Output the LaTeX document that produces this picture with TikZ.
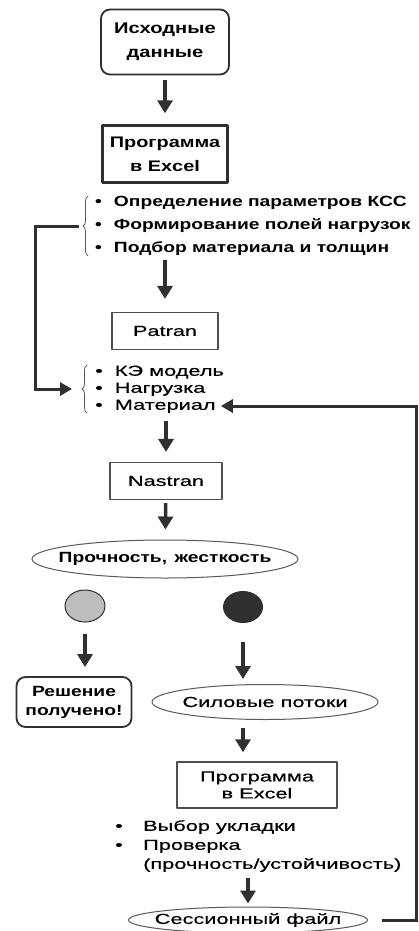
\documentclass[tikz,border=0pt]{standalone}
\usepackage{fontspec}
\setmainfont{Liberation Sans}[FakeStretch=1.5, FakeBold=0.5]
\newfontfamily\bfam{Liberation Sans}[FakeStretch=1.3]
\usepackage{tikz}
\usetikzlibrary{arrows.meta,shapes.geometric,decorations.pathreplacing}

\definecolor{ink}{HTML}{303030}
\definecolor{lgray}{HTML}{BDBDBD}

\newcommand{\bsize}[2]{\bfam\bfseries\fontsize{#1}{#2}\selectfont}
\newcommand{\psize}[1]{\fontsize{14.5}{#1}\selectfont}

\begin{document}
\begin{tikzpicture}[
    x=1pt, y=-1pt,
    line cap=round,
    line join=round,
    boxr/.style={draw=ink, line width=1.8pt, rounded corners=9pt, align=center, inner sep=0pt},
    boxs/.style={draw=ink, line width=2.4pt, align=center, inner sep=0pt},
    boxt/.style={draw=ink!85, line width=1.2pt, align=center, inner sep=0pt},
    oval/.style={ellipse, draw=ink!80, line width=1pt, inner xsep=-20pt, inner ysep=0pt, align=center},
    dot/.style={ellipse, draw=ink, line width=1pt, inner sep=0pt},
    item/.style={anchor=west, inner sep=0pt, align=left},
    line/.style={item, text height=10.5pt, text depth=3pt},
    arr/.style={draw=ink, line width=3.5pt, line cap=butt, -{Triangle[length=13pt,width=15pt]}, shorten <=4pt, shorten >=10pt},
    back/.style={draw=ink, line width=3pt, line cap=butt, line join=miter, -{Triangle[length=12pt,width=13pt]}},
    brc/.style={draw=ink!80, line width=0.8pt, decorate, decoration={brace, amplitude=5pt}}
]

% Fondo e margini
\fill[white] (0,0) rectangle (418,931);
\useasboundingbox (0,0) rectangle (418,931);

% Blocchi in alto
\node[boxr, font={\bsize{15.5}{24}}, minimum width=128pt, minimum height=65pt] (src) at (165,42) {Исходные\\данные};
\node[boxs, font={\bsize{15.3}{24}}, minimum width=125pt, minimum height=57pt] (xls) at (165,154) {Программа\\в Excel};

% Primo elenco
\node[item, font={\bsize{14.8}{23}}] (par) at (95,226)
    {•\hspace{12pt}Определение параметров КСС\\•\hspace{12pt}Формирование полей нагрузок\\•\hspace{12pt}Подбор материала и толщин};
\draw[brc] ([xshift=-7pt]par.south west) -- ([xshift=-7pt]par.north west);
\coordinate (in1) at ([xshift=-16pt]par.west);

% Patran
\node[boxt, font={\psize{17}}, minimum width=106pt, minimum height=37pt] (ptr) at (165,331) {Patran};

% Secondo elenco
\node[line, font={\psize{17}}] (ke) at (95,372) {•\hspace{12pt}КЭ модель};
\node[line, font={\psize{17}}] (load) at (95,389) {•\hspace{12pt}Нагрузка};
\node[line, font={\psize{17}}] (matl) at (95,406) {•\hspace{12pt}Материал};
\draw[brc] ([xshift=-8pt]matl.south west) -- ([xshift=-8pt]ke.north west);
\coordinate (in2) at ([xshift=-23pt]load.west);

% Nastran e risultato
\node[boxt, font={\psize{17}}, minimum width=112pt, minimum height=37pt] (nas) at (166,481) {Nastran};
\node[oval, font={\bsize{14.8}{17}}, minimum width=266pt, minimum height=38pt] (str) at (165,559) {Прочность,\enspace жесткость};

% Cerchi
\node[dot, fill=lgray, minimum width=40pt, minimum height=32pt] (ok) at (85,606) {};
\node[dot, fill=ink, minimum width=39pt, minimum height=31pt] (bad) at (243,607) {};

% Ramo sinistro
\node[boxr, font={\bsize{14.8}{19}}, minimum width=115pt, minimum height=50pt] (done) at (74,702) {Решение\\получено!};

% Ramo destro
\node[oval, font={\psize{17}}, minimum width=226pt, minimum height=35pt] (flw) at (265,702) {Силовые потоки};
\node[boxt, line width=1.5pt, font={\psize{17}}, minimum width=160pt, minimum height=46pt] (xls2) at (257,785) {Программа\\в Excel};
\node[item, font={\psize{19}}] (chk) at (115,846)
    {\makebox[28pt][l]{•}Выбор укладки\\\makebox[28pt][l]{•}Проверка\\\hspace*{28pt}(прочность/устойчивость)};
\node[oval, font={\psize{17}}, minimum width=239pt, minimum height=26pt] (ses) at (248,920) {Сессионный файл};

% Frecce
\draw[arr, shorten <=5pt, shorten >=11pt] (src) -- (xls);
\draw[arr, shorten >=13pt] (par.south -| ptr.north) -- (ptr.north);
\draw[arr, shorten <=8pt] (matl.south -| nas.north) -- (nas);
\draw[arr, shorten <=3pt] (nas) -- (str);
\draw[arr, shorten <=11pt, shorten >=9pt] (ok.south) -- (ok.south |- done.north);
\draw[arr, shorten <=19pt, shorten >=5pt] (bad.south) -- (bad.south |- flw.north);
\draw[arr, shorten <=8pt, shorten >=9pt] (bad.south |- flw.south) -- (bad.south |- xls2.north);
\draw[arr, shorten <=6pt, shorten >=3pt] (ses.north |- chk.south) -- (ses.north);

% Ritorni
\coordinate (lft) at (35,0);
\coordinate (rgt) at (416,0);
\draw[back] (in1) -- (in1 -| lft) |- (in2);
\draw[back, shorten <=14pt, shorten >=5pt] (ses.east) -- (ses.east -| rgt) |- (matl.east);

\end{tikzpicture}
\end{document}
